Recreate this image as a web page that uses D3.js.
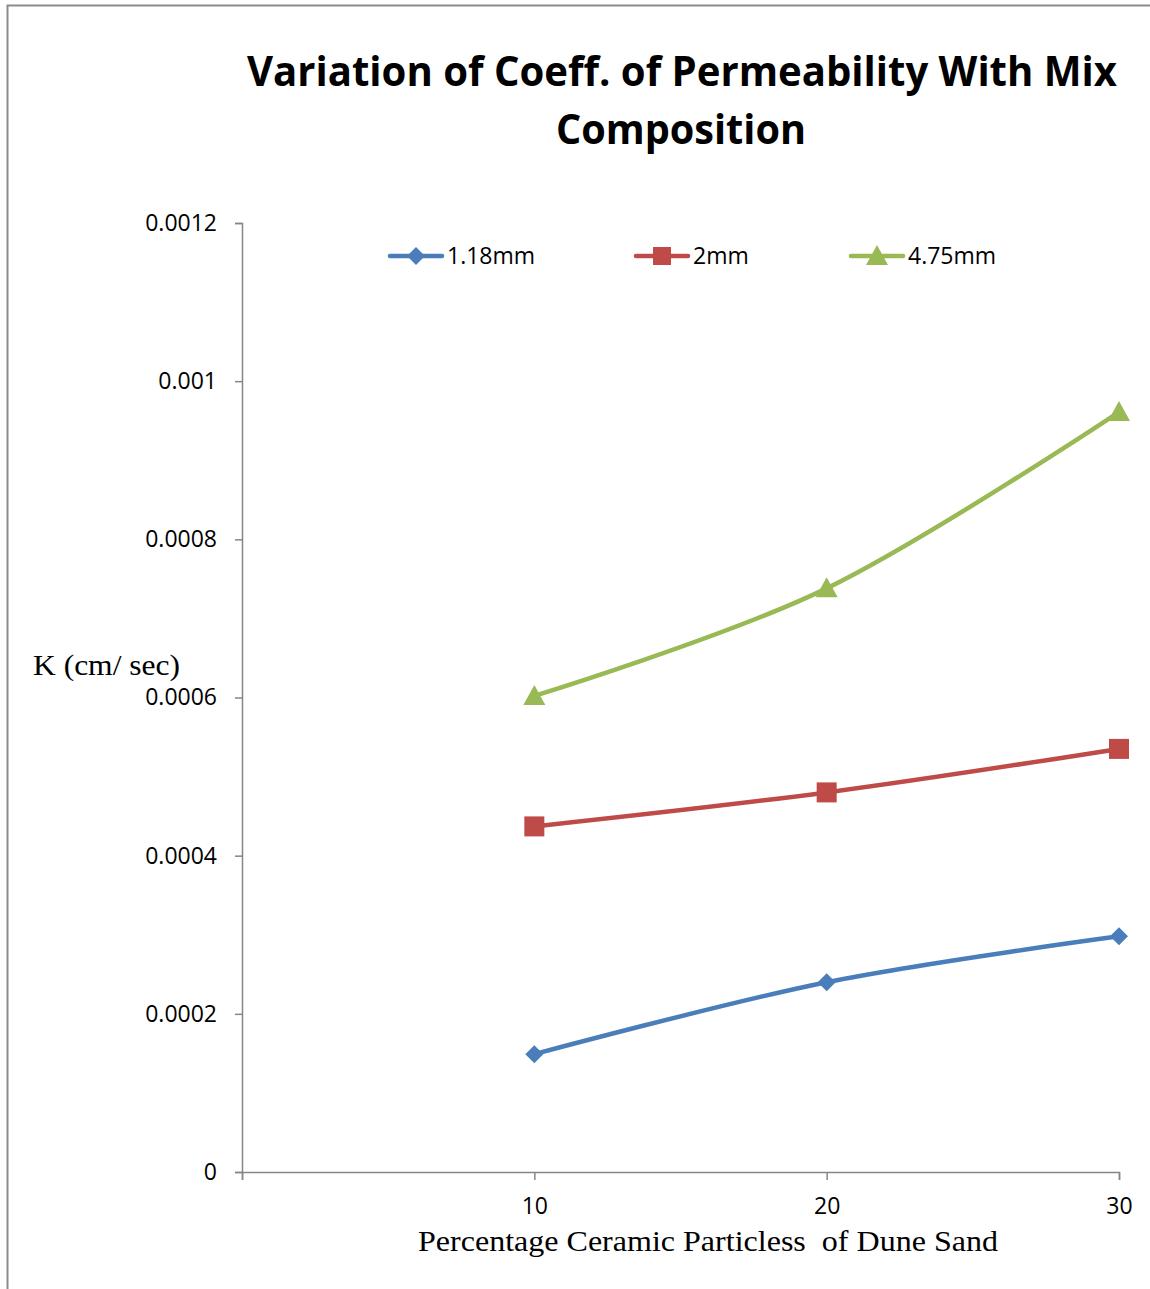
<!DOCTYPE html>
<html><head><meta charset="utf-8">
<script src="https://cdnjs.cloudflare.com/ajax/libs/d3/7.8.5/d3.min.js"></script>
<style>body{margin:0;background:#fff}svg{display:block}</style>
</head><body>
<script>
const categories = [10, 20, 30];
const seriesNames = ["1.18mm", "2mm", "4.75mm"];
const values118 = [0.000149, 0.000240, 0.000298];
const values2 = [0.000437, 0.000480, 0.000535];
const values475 = [0.000602, 0.000738, 0.000961];
const yTicks = [0, 0.0002, 0.0004, 0.0006, 0.0008, 0.001, 0.0012];
const yTickLabels = ["0", "0.0002", "0.0004", "0.0006", "0.0008", "0.001", "0.0012"];
const xTicks = [0, 10, 20, 30];
const xTickLabels = ["", "10", "20", "30"];
const colors = ["#4A7EBB", "#BE4B48", "#98B954"];
const markers = ["diamond", "square", "triangle"];
const allValues = [values118, values2, values475];

const W = 1150, H = 1289;
const svg = d3.select("body").append("svg").attr("width", W).attr("height", H);

// outer border
svg.append("path").attr("d", "M7.5,1289 L7.5,5.5 L1150,5.5")
  .attr("fill", "none").attr("stroke", "#8c8c8c").attr("stroke-width", 2);

const x = d3.scaleLinear().domain([0, 30]).range([242, 1119]);
const y = d3.scaleLinear().domain([0, 0.0012]).range([1172, 223]);

const font = "'Open Sans', sans-serif";

// y axis
const yAxis = d3.axisLeft(y).tickValues(yTicks).tickSize(7).tickPadding(18)
  .tickFormat((d, i) => yTickLabels[i]);
const gy = svg.append("g").attr("transform", "translate(242,0)").call(yAxis);
gy.select(".domain").attr("stroke", "#868686").attr("stroke-width", 1.5);
gy.selectAll(".tick line").attr("stroke", "#868686").attr("stroke-width", 1.5);
gy.selectAll("text").attr("font-family", font).attr("font-size", 23).attr("fill", "#000");

// x axis
const xAxis = d3.axisBottom(x).tickValues(xTicks).tickSize(8).tickPadding(18)
  .tickFormat((d, i) => xTickLabels[i]);
const gx = svg.append("g").attr("transform", "translate(0,1172)").call(xAxis);
gx.select(".domain").attr("stroke", "#868686").attr("stroke-width", 1.5);
gx.selectAll(".tick line").attr("stroke", "#868686").attr("stroke-width", 1.5);
gx.selectAll("text").attr("font-family", font).attr("font-size", 23).attr("fill", "#000");

// title
svg.append("text").attr("x", 682).attr("y", 86).attr("text-anchor", "middle")
  .attr("font-family", "'Open Sans', sans-serif").attr("font-weight", "bold")
  .attr("font-size", 41).attr("textLength", 870).attr("lengthAdjust", "spacingAndGlyphs")
  .text("Variation of Coeff. of Permeability With Mix");
svg.append("text").attr("x", 681).attr("y", 144).attr("text-anchor", "middle")
  .attr("font-family", "'Open Sans', sans-serif").attr("font-weight", "bold")
  .attr("font-size", 41).attr("textLength", 250).attr("lengthAdjust", "spacingAndGlyphs")
  .text("Composition");

// axis titles
svg.append("text").attr("x", 708).attr("y", 1251).attr("text-anchor", "middle")
  .attr("font-family", "'Liberation Serif', 'Times New Roman', serif").attr("font-size", 29)
  .style("white-space", "pre")
  .attr("textLength", 580).attr("lengthAdjust", "spacingAndGlyphs")
  .text("Percentage Ceramic Particless  of Dune Sand");
svg.append("text").attr("x", 33).attr("y", 675)
  .attr("font-family", "'Liberation Serif', 'Times New Roman', serif").attr("font-size", 30)
  .attr("textLength", 147).attr("lengthAdjust", "spacingAndGlyphs")
  .text("K (cm/ sec)");

function drawMarker(g, type, cx, cy, color, s) {
  if (type === "diamond") {
    g.append("path").attr("d", `M${cx},${cy - s} L${cx + s},${cy} L${cx},${cy + s} L${cx - s},${cy} Z`).attr("fill", color);
  } else if (type === "square") {
    g.append("rect").attr("x", cx - s).attr("y", cy - s).attr("width", 2 * s).attr("height", 2 * s).attr("fill", color);
  } else {
    g.append("path").attr("d", `M${cx},${cy - s - 1} L${cx + s + 1},${cy + s - 1} L${cx - s - 1},${cy + s - 1} Z`).attr("fill", color);
  }
}

const line = d3.line().x(d => x(d[0])).y(d => y(d[1])).curve(d3.curveCardinal.tension(0));

allValues.forEach((vals, si) => {
  const pts = categories.map((c, i) => [c, vals[i]]);
  const g = svg.append("g");
  g.append("path").attr("d", line(pts)).attr("fill", "none")
    .attr("stroke", colors[si]).attr("stroke-width", 4.5).attr("stroke-linecap", "round");
  const sz = [9, 10, 10][si];
  pts.forEach(p => drawMarker(g, markers[si], x(p[0]), y(p[1]), colors[si], sz));
});

// legend
const legendX = [390, 636, 851];
seriesNames.forEach((name, si) => {
  const g = svg.append("g");
  const lx = legendX[si];
  g.append("line").attr("x1", lx).attr("x2", lx + 52).attr("y1", 256).attr("y2", 256)
    .attr("stroke", colors[si]).attr("stroke-width", 4.5).attr("stroke-linecap", "round");
  drawMarker(g, markers[si], lx + 26, 256, colors[si], [9, 9, 10][si]);
  g.append("text").attr("x", lx + 57).attr("y", 264).attr("font-family", font)
    .attr("font-size", 23).text(name);
});
</script>
</body></html>
